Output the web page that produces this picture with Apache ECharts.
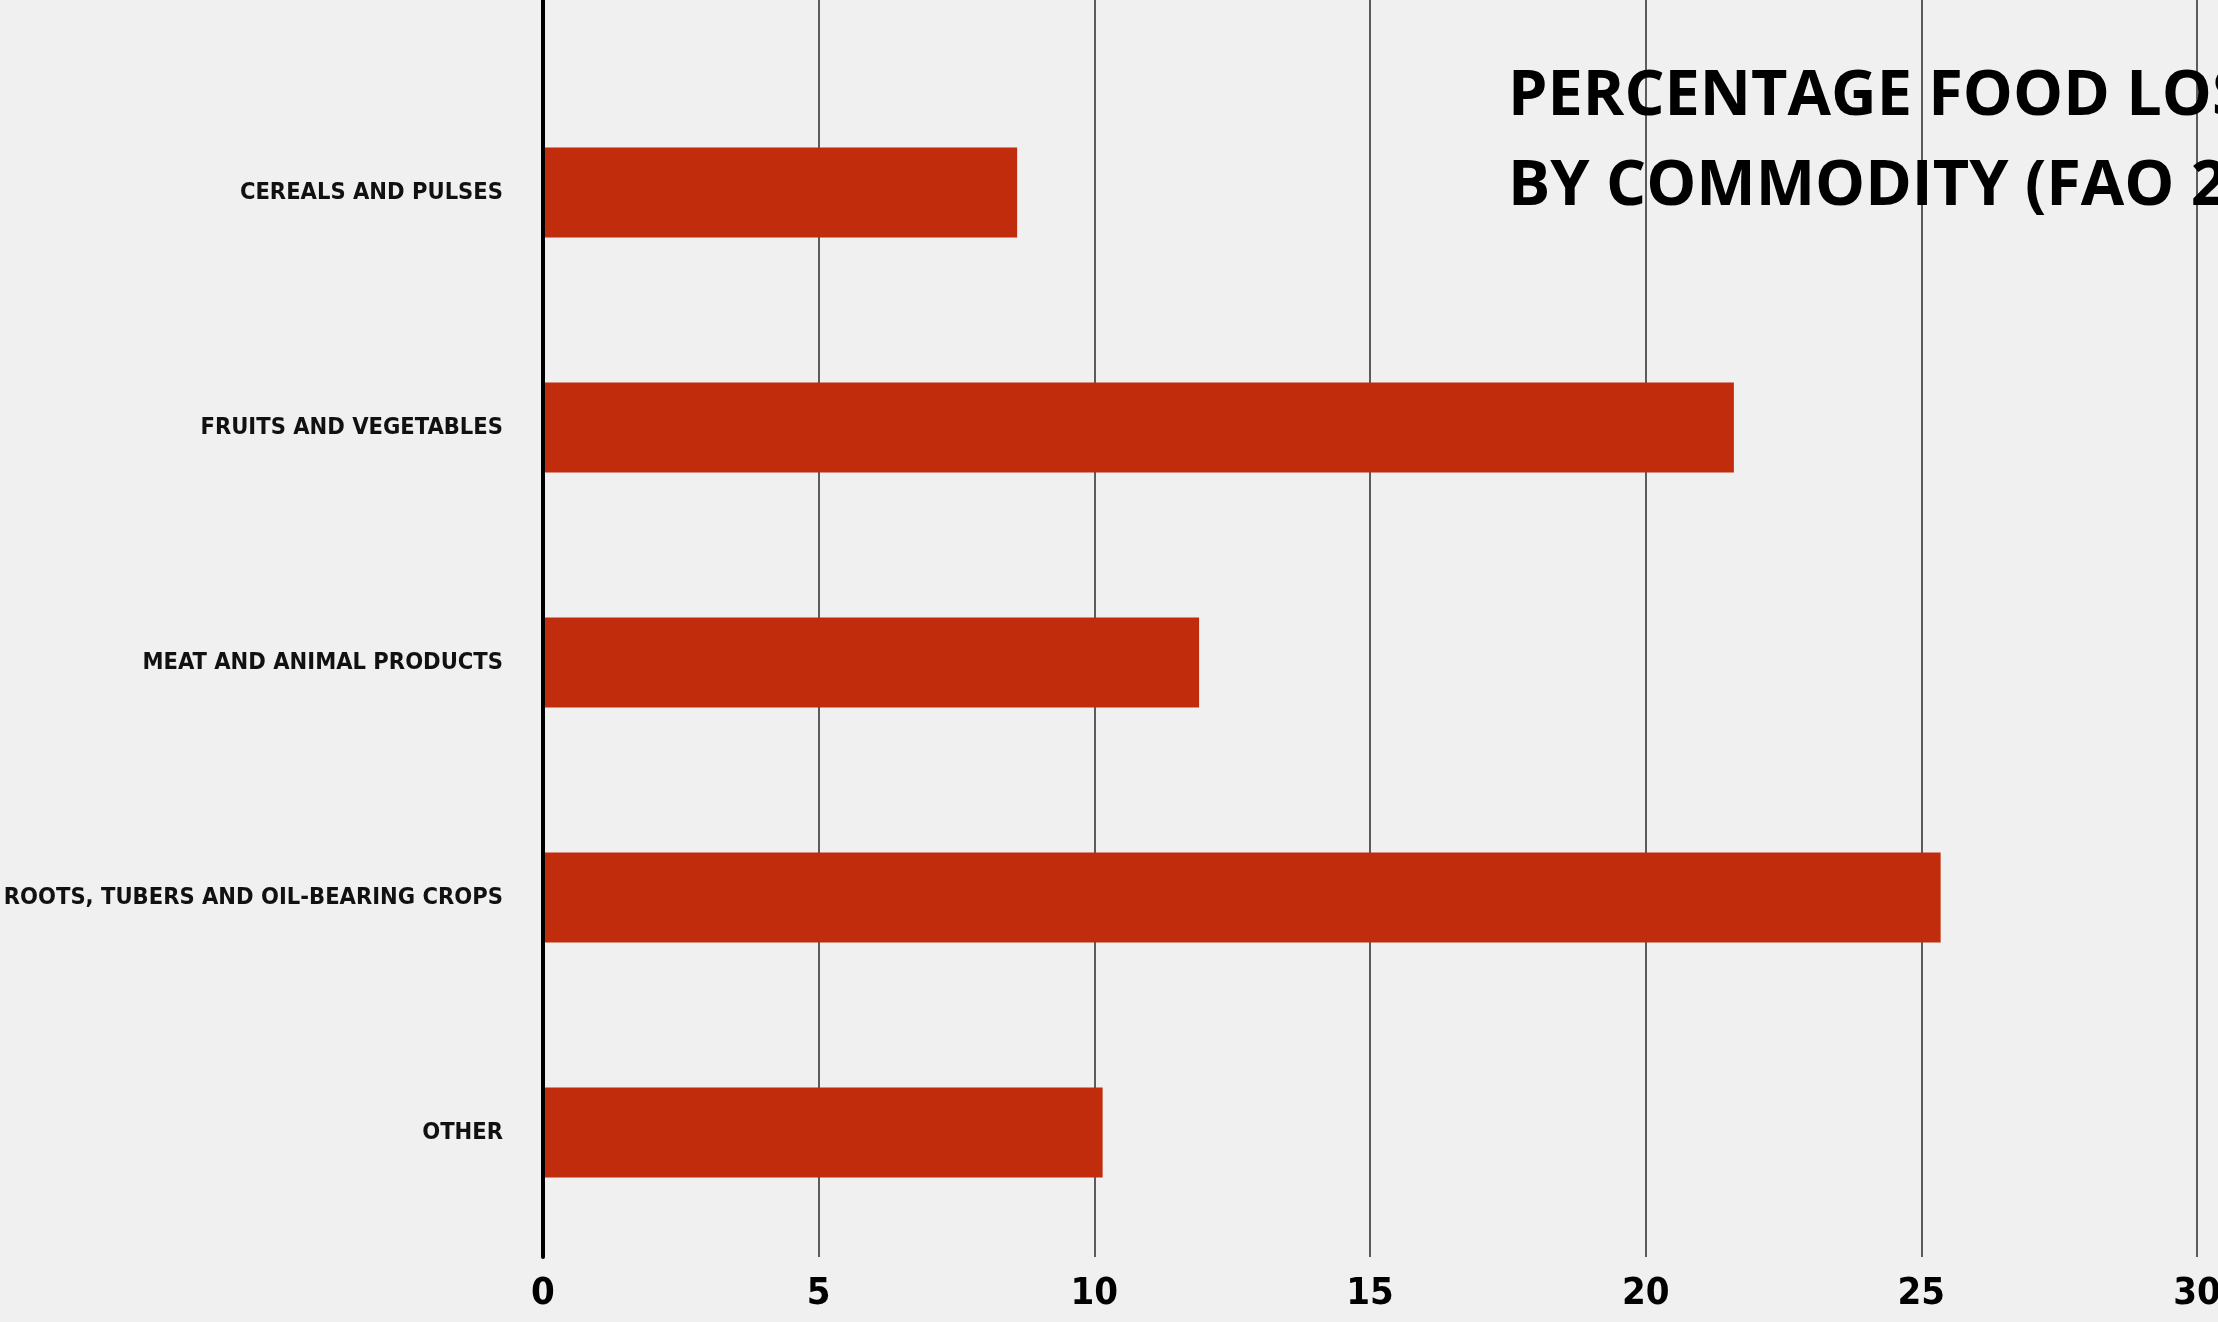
<!DOCTYPE html>
<html>
<head>
<meta charset="utf-8">
<title>Percentage food loss by commodity</title>
<script src="https://cdn.jsdelivr.net/npm/echarts@6/dist/echarts.min.js"></script>
<style>
	html,body{margin:0;padding:0;background:#f0f0f0;}
	#charts_loss{width:2218px;height:1322px;}
</style>
</head>
<body>
<div id="charts_loss"></div>
<script type="text/javascript">
	// data
	var categories = ['CEREALS AND PULSES', 'FRUITS AND VEGETABLES', 'MEAT AND ANIMAL PRODUCTS', 'ROOTS, TUBERS AND OIL-BEARING CROPS', 'OTHER'];
	var lossValues = [8.6, 21.6, 11.9, 25.35, 10.15];
	var tickValues = [0, 5, 10, 15, 20, 25, 30];

	var narrow = '"DejaVu Sans Condensed", "Liberation Sans Narrow", sans-serif';

	var myChart = echarts.init(document.getElementById('charts_loss'));
	var option = {
		backgroundColor: '#f0f0f0',
		animation: false,
		title: {
			text: 'PERCENTAGE FOOD LOSS\nBY COMMODITY (FAO 2011)',
			left: 1508,
			top: 52,
			padding: 0,
			textStyle: {
				fontFamily: '"Open Sans", sans-serif',
				fontWeight: 'bold',
				fontSize: 63,
				lineHeight: 90,
				color: '#000'
			}
		},
		grid: [
			// grid lines + axis, full height
			{left: 543, right: 21, top: 0, bottom: 65, containLabel: false, outerBoundsMode: 'none'},
			// bars
			{left: 543, right: 21, top: 75, bottom: 72, containLabel: false, outerBoundsMode: 'none'}
		],
		xAxis: [
			{
				gridIndex: 0,
				type: 'value',
				min: tickValues[0],
				max: tickValues[tickValues.length - 1],
				interval: tickValues[1] - tickValues[0],
				axisLine: {show: false},
				axisTick: {show: false},
				axisLabel: {
					margin: 18,
					fontFamily: narrow,
					fontWeight: 'bold',
					fontSize: 38,
					color: '#000'
				},
				splitLine: {show: true, lineStyle: {color: '#5c5c5c', width: 2}}
			},
			{
				gridIndex: 1,
				type: 'value',
				min: tickValues[0],
				max: tickValues[tickValues.length - 1],
				show: false
			}
		],
		yAxis: [
			{
				gridIndex: 0,
				type: 'value',
				z: 5,
				axisLine: {show: true, lineStyle: {color: '#000', width: 4}},
				axisTick: {show: false},
				axisLabel: {show: false},
				splitLine: {show: false}
			},
			{
				gridIndex: 1,
				type: 'category',
				inverse: true,
				data: categories,
				axisLine: {show: false},
				axisTick: {show: false},
				axisLabel: {
					margin: 40,
					fontFamily: narrow,
					fontWeight: 'bold',
					fontSize: 23.5,
					color: '#111'
				}
			}
		],
		series: [
			{
				name: 'loss',
				type: 'bar',
				xAxisIndex: 1,
				yAxisIndex: 1,
				barWidth: 90,
				itemStyle: {color: '#c02c0c'},
				data: lossValues
			}
		]
	};
	myChart.setOption(option);
</script>
</body>
</html>
